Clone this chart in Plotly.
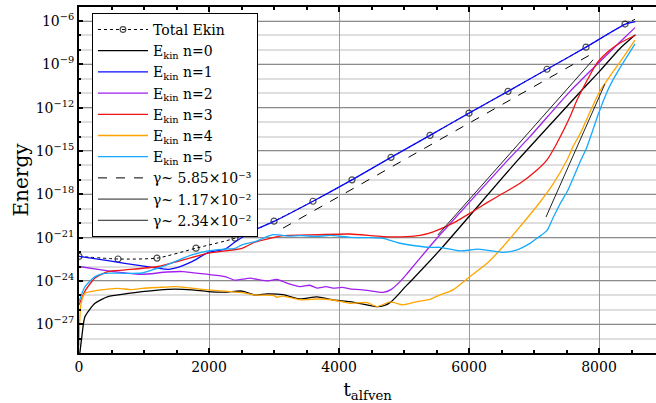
import numpy as np
import plotly.graph_objects as go

# ---------------- data (log10 of energy) ----------------
t_total = [0, 600, 1200, 1800, 2400, 3000, 3600, 4200, 4800, 5400, 6000, 6600, 7200, 7800, 8400, 8570]
logE_total = [-22.30, -22.48, -22.42, -21.73, -21.04, -19.86, -18.48, -17.00, -15.44, -13.92,
              -12.38, -10.87, -9.34, -7.81, -6.21, -5.85]

t_n0 = [0, 40, 92, 246, 446, 708, 969, 1215, 1477, 1738, 1985, 2246, 2508, 2708, 2892, 3138,
        3400, 3662, 3908, 4169, 4431, 4585, 4700, 4800, 4900, 5000, 5108, 5554, 6754, 7554,
        7738, 8015, 8323, 8554]
logE_n0 = [-29.5, -28.0, -26.47, -25.55, -25.09, -24.9, -24.74, -24.63, -24.57, -24.62, -24.74,
           -24.78, -24.7, -24.97, -24.9, -24.95, -25.25, -25.1, -25.32, -25.43, -25.66, -25.78,
           -25.7, -25.45, -25.0, -24.5, -24.0, -21.85, -15.62, -11.68, -10.78, -9.45, -7.9, -6.97]

t_n1 = [0, 446, 969, 1215, 1380, 1477, 1738, 1985, 2246, 2400, 2708, 3000, 3600, 4200, 4800,
        5400, 6000, 6600, 7200, 7800, 8400, 8560]
logE_n1 = [-22.3, -22.6, -22.96, -23.12, -23.2, -23.12, -22.66, -22.04, -21.8, -21.3, -20.47,
           -19.88, -18.48, -17.0, -15.44, -13.92, -12.38, -10.87, -9.34, -7.81, -6.23, -6.05]

t_n2 = [0, 446, 708, 969, 1354, 1600, 1985, 2246, 2400, 2550, 2631, 2800, 2892, 3046, 3200,
        3400, 3550, 3662, 3800, 3908, 4050, 4169, 4431, 4677, 4800, 4938, 5046, 5400, 5554,
        6600, 6938, 7554, 8015, 8323, 8554]
logE_n2 = [-23.0, -23.3, -23.45, -23.55, -23.38, -23.35, -23.55, -23.7, -23.95, -23.85, -23.8,
           -23.95, -24.0, -23.9, -24.15, -24.39, -24.3, -24.5, -24.4, -24.5, -24.45, -24.55,
           -24.65, -24.79, -24.6, -24.05, -23.5, -21.6, -20.8, -15.62, -14.01, -10.87, -8.8,
           -7.45, -6.46]

t_n3 = [0, 92, 246, 446, 708, 1215, 1477, 1985, 2508, 2708, 2938, 3138, 3662, 4169, 4677,
        5046, 5246, 5450, 5754, 6015, 6277, 6523, 6785, 7046, 7200, 7354, 7554, 7662, 7969,
        8169, 8323, 8569]
logE_n3 = [-25.66, -24.7, -23.8, -23.35, -23.24, -23.0, -22.7, -22.08, -21.74, -21.32, -21.05,
           -20.86, -20.8, -20.75, -20.93, -20.93, -20.85, -20.6, -20.0, -19.31, -18.58, -17.93,
           -17.24, -16.32, -15.62, -14.45, -12.63, -11.47, -8.91, -8.01, -7.52, -6.97]

t_n4 = [0, 30, 92, 246, 446, 600, 815, 969, 1215, 1477, 1738, 1985, 2246, 2508, 2708, 2985,
        3046, 3138, 3400, 3662, 3908, 4169, 4431, 4585, 4785, 4985, 5200, 5400, 5554, 5754,
        6015, 6277, 6523, 6785, 7046, 7292, 7508, 7600, 7708, 8015, 8323, 8554]
logE_n4 = [-28.5, -25.6, -24.86, -24.69, -24.57, -24.52, -24.6, -24.52, -24.45, -24.39, -24.5,
           -24.62, -24.7, -24.81, -24.97, -25.0, -25.13, -25.05, -25.3, -25.25, -25.32, -25.55,
           -25.5, -25.78, -25.45, -25.66, -25.43, -25.27, -24.97, -24.62, -23.7, -22.78,
           -21.63, -20.24, -18.81, -17.29, -15.62, -14.7, -13.82, -10.85, -8.84, -7.32]

t_n5 = [0, 92, 246, 400, 708, 969, 1215, 1477, 1738, 1985, 2246, 2400, 2508, 2708, 2985, 3246,
        3400, 3662, 3862, 4169, 4431, 4677, 4938, 5200, 5400, 5554, 5862, 6138, 6400, 6523,
        6738, 6938, 7046, 7200, 7292, 7400, 7523, 7708, 7815, 7985, 8123, 8215, 8323, 8554]
logE_n5 = [-25.43, -24.4, -23.7, -23.47, -23.47, -23.45, -23.12, -22.66, -22.2, -21.92, -21.79,
           -21.74, -21.5, -21.28, -20.8, -20.9, -20.86, -20.92, -20.85, -20.98, -21.0, -21.05,
           -21.39, -21.58, -21.68, -21.67, -21.92, -21.8, -21.95, -22.02, -21.85, -21.4, -21.05,
           -20.5, -19.64, -18.67, -17.7, -15.76, -14.72, -12.51, -10.92, -10.08, -9.25, -7.59]

t_fit1 = [3140, 7920]
logE_fit1 = [-20.34, -8.20]
t_fit2 = [5520, 7910]
logE_fit2 = [-20.82, -8.68]
t_fit3 = [7185, 8090]
logE_fit3 = [-19.57, -10.37]

y_tick_exp = [-27, -24, -21, -18, -15, -12, -9, -6]
x_tick_vals = [0, 2000, 4000, 6000, 8000]

FONT = "DejaVu Serif"


def E(v):
    return np.power(10.0, np.array(v, dtype=float))


fig = go.Figure()

fig.add_trace(go.Scatter(
    x=t_total, y=E(logE_total), mode="lines+markers", name="Total Ekin",
    line=dict(color="black", width=1, dash="dot", shape="spline", smoothing=0.6),
    marker=dict(symbol="circle-open", size=[6] * (len(t_total) - 1) + [0],
                color="black", line=dict(width=1.2, color="black"))))

modes = [
    (t_n0, logE_n0, "#000000", "n=0"),
    (t_n1, logE_n1, "#0a0aff", "n=1"),
    (t_n2, logE_n2, "#a020f0", "n=2"),
    (t_n3, logE_n3, "#f01414", "n=3"),
    (t_n4, logE_n4, "#ffa500", "n=4"),
    (t_n5, logE_n5, "#14aaff", "n=5"),
]
for tt, ee, col, lab in modes:
    fig.add_trace(go.Scatter(
        x=tt, y=E(ee), mode="lines", name="E<sub>kin</sub> " + lab,
        line=dict(color=col, width=1.3, shape="spline", smoothing=0.6)))

fig.add_trace(go.Scatter(x=t_fit1, y=E(logE_fit1), mode="lines",
                         name="γ~ 5.85×10⁻³",
                         line=dict(color="black", width=1, dash="dash")))
fig.add_trace(go.Scatter(x=t_fit2, y=E(logE_fit2), mode="lines",
                         name="γ~ 1.17×10⁻²",
                         line=dict(color="#222222", width=1)))
fig.add_trace(go.Scatter(x=t_fit3, y=E(logE_fit3), mode="lines",
                         name="γ~ 2.34×10⁻²",
                         line=dict(color="#222222", width=1)))

fig.update_layout(
    width=656, height=403,
    margin=dict(l=79, r=0, t=7, b=50, autoexpand=False),
    paper_bgcolor="white", plot_bgcolor="white",
    font=dict(family=FONT, size=14, color="black"),
    showlegend=True,
    legend=dict(x=0.0225, y=0.983, xanchor="left", yanchor="top",
                bgcolor="white", bordercolor="black", borderwidth=1,
                font=dict(family=FONT, size=14), itemwidth=50, tracegroupgap=0),
)

fig.update_xaxes(
    range=[0, 8877], tickvals=x_tick_vals,
    ticks="inside", ticklen=5, tickwidth=1.5, tickcolor="black",
    showgrid=True, gridcolor="#9a9a9a", gridwidth=1,
    showline=True, linecolor="black", linewidth=2, mirror="ticks",
    zeroline=False, automargin=False,
    minor=dict(dtick=500, ticks="inside", ticklen=3, tickcolor="black", showgrid=False),
    tickfont=dict(family=FONT, size=14),
    title=dict(text="t<sub>alfven</sub>", font=dict(family=FONT, size=19)),
)

fig.update_yaxes(
    type="log", range=[-28.99, -5.03],
    tickvals=[10.0 ** e for e in y_tick_exp],
    ticktext=["10<sup>−%d</sup>" % (-e) for e in y_tick_exp],
    ticks="inside", ticklen=4, tickwidth=1.5, tickcolor="black",
    showgrid=True, gridcolor="#8c8c8c", gridwidth=1.2,
    showline=True, linecolor="black", linewidth=2, mirror=False,
    automargin=False,
    minor=dict(tickvals=[10.0 ** e for e in range(-28, -5)], ticks="inside", ticklen=2,
               tickcolor="black", showgrid=True, gridcolor="#dedede", gridwidth=1.5),
    tickfont=dict(family=FONT, size=14),
    title=dict(text="Energy", font=dict(family=FONT, size=20), standoff=2),
)

fig.write_html("out.html", config={"displayModeBar": False},
               post_script="document.body.style.margin='0px';document.body.style.overflow='hidden';")
